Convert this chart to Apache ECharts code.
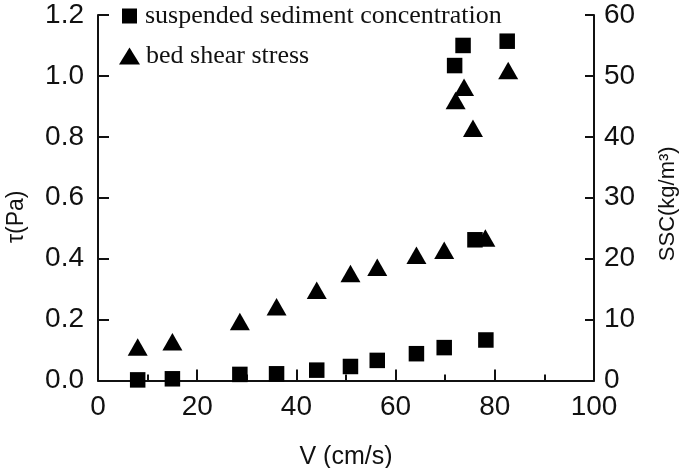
<!DOCTYPE html>
<html>
<head>
<meta charset="utf-8">
<script src="https://cdn.jsdelivr.net/npm/echarts@6/dist/echarts.min.js"></script>
<style>
  html, body { margin: 0; padding: 0; background: #fff; }
  #chart { width: 685px; height: 468px; }
</style>
</head>
<body>
<div id="chart"></div>
<script>
// Velocity (cm/s) for each measured point
const stressV = [8.0, 15.0, 28.6, 36.0, 44.1, 50.9, 56.3, 64.2, 69.8, 78.1, 72.1, 73.8, 75.6, 82.7];
// Bed shear stress τ (Pa)
const stressTau = [0.11, 0.127, 0.194, 0.242, 0.296, 0.351, 0.372, 0.411, 0.428, 0.468, 0.919, 0.963, 0.828, 1.018];

const sscV = [8.0, 15.0, 28.6, 36.0, 44.1, 50.9, 56.3, 64.2, 69.8, 76.0, 78.2, 71.9, 73.6, 82.5];
// Suspended sediment concentration (kg/m^3)
const sscVal = [0.1, 0.28, 1.0, 1.1, 1.7, 2.3, 3.3, 4.4, 5.4, 23.1, 6.65, 51.7, 55.0, 55.7];

const seriesNames = ['suspended sediment concentration', 'bed shear stress'];
const xName = 'V (cm/s)';
const yLeftName = 'τ(Pa)';
const yRightName = 'SSC(kg/m³)';

const ink = '#111';
const sansFont = '"Liberation Sans", Arial, sans-serif';
const serifFont = '"Liberation Serif", "Times New Roman", serif';

const chart = echarts.init(document.getElementById('chart'), null, { renderer: 'canvas' });

const axisCommon = {
  axisLine: { show: true, lineStyle: { color: ink, width: 2 } },
  splitLine: { show: false },
  axisLabel: { color: ink, fontFamily: sansFont, fontSize: 28 }
};

chart.setOption({
  animation: false,
  backgroundColor: '#fff',
  grid: { left: 98, right: 91, top: 15, bottom: 87.5, containLabel: false, outerBoundsMode: 'none' },
  legend: [
    {
      data: [seriesNames[0]],
      orient: 'vertical',
      left: 122, top: 3, padding: 0,
      itemWidth: 15, itemHeight: 15,
      textStyle: { color: ink, fontFamily: serifFont, fontSize: 26, padding: [0, 0, 0, 3] },
      selectedMode: false
    },
    {
      data: [seriesNames[1]],
      orient: 'vertical',
      left: 119, top: 43, padding: 0,
      itemWidth: 21, itemHeight: 17,
      textStyle: { color: ink, fontFamily: serifFont, fontSize: 26, padding: [0, 0, 0, 1] },
      selectedMode: false
    }
  ],
  xAxis: Object.assign({}, axisCommon, {
    type: 'value',
    min: 0, max: 100, interval: 20,
    name: xName,
    nameLocation: 'middle',
    nameGap: 64,
    nameTextStyle: { color: ink, fontFamily: sansFont, fontSize: 25 },
    axisTick: { show: true, inside: true, length: 11, lineStyle: { color: ink, width: 2 } },
    minorTick: { show: true, splitNumber: 2, length: 6, lineStyle: { color: ink, width: 2 } },
    axisLabel: { color: ink, fontFamily: sansFont, fontSize: 28, margin: 13 }
  }),
  yAxis: [
    Object.assign({}, axisCommon, {
      type: 'value',
      position: 'left',
      min: 0, max: 1.2, interval: 0.2,
      name: yLeftName,
      nameLocation: 'middle',
      nameRotate: 90,
      nameGap: 70,
      nameTextStyle: { color: ink, fontFamily: sansFont, fontSize: 23, padding: [0, 38, 0, 0] },
      axisTick: { show: true, inside: true, length: 11, lineStyle: { color: ink, width: 2 } },
      axisLabel: {
        color: ink, fontFamily: sansFont, fontSize: 28, margin: 14,
        formatter: v => v.toFixed(1)
      }
    }),
    Object.assign({}, axisCommon, {
      type: 'value',
      position: 'right',
      min: 0, max: 60, interval: 10,
      name: yRightName,
      nameLocation: 'middle',
      nameRotate: 90,
      nameGap: 63,
      nameTextStyle: { color: ink, fontFamily: sansFont, fontSize: 22, padding: [0, 12, 0, 0] },
      axisTick: { show: true, inside: true, length: 9, lineStyle: { color: ink, width: 2 } },
      axisLabel: { color: ink, fontFamily: sansFont, fontSize: 28, margin: 10 }
    })
  ],
  series: [
    {
      name: seriesNames[0],
      type: 'scatter',
      yAxisIndex: 1,
      symbol: 'rect',
      symbolSize: 15.5,
      itemStyle: { color: '#000', opacity: 1 },
      data: sscV.map((v, i) => [v, sscVal[i]])
    },
    {
      name: seriesNames[1],
      type: 'scatter',
      yAxisIndex: 0,
      symbol: 'triangle',
      symbolSize: [20, 17.5],
      itemStyle: { color: '#000', opacity: 1 },
      data: stressV.map((v, i) => [v, stressTau[i]])
    }
  ]
});
</script>
</body>
</html>
